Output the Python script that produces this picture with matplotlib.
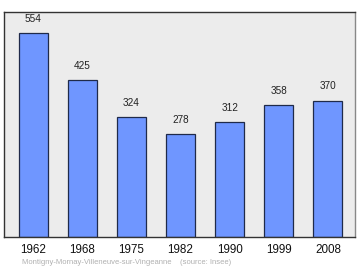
"""
Population bar chart: Montigny-Mornay-Villeneuve-sur-Vingeanne (source: Insee).
"""

import numpy as np
import matplotlib
matplotlib.use('Agg')
import matplotlib.pyplot as plt

plt.rcParams['font.family'] = ['Liberation Sans', 'DejaVu Sans']

YEARS = ['1962', '1968', '1975', '1982', '1990', '1999', '2008']
POPULATION = [554, 425, 324, 278, 312, 358, 370]
CAPTION = 'Montigny-Mornay-Villeneuve-sur-Vingeanne    (source: Insee)'

BAR_COLOR = '#6f96ff'
EDGE_COLOR = '#1f2a4a'
BG_COLOR = '#ececec'


def main():
    fig = plt.figure(figsize=(3.6, 2.7), dpi=100)
    # axes box in pixels: left 4, top 12, right 355, bottom 237
    ax = fig.add_axes([4 / 360, 1 - 237 / 270, 351 / 360, 225 / 270])
    ax.set_facecolor(BG_COLOR)

    x = np.arange(len(YEARS))
    ax.bar(x, POPULATION, width=0.59, color=BAR_COLOR,
           edgecolor=EDGE_COLOR, linewidth=0.9)

    for xi, val in zip(x, POPULATION):
        ax.annotate(str(val), (xi, val), xytext=(0, 6.5), textcoords='offset points',
                    ha='center', va='bottom', fontsize=7.2, color='#222222')

    ax.set_xlim(-0.59, 6.55)
    ax.set_ylim(0, 610)
    ax.set_yticks([])
    ax.set_xticks(x)
    ax.set_xticklabels(YEARS, fontsize=8.4, color='#111111')
    ax.tick_params(axis='x', length=0, pad=5)

    for side in ['left', 'top', 'bottom']:
        ax.spines[side].set_color('#333333')
        ax.spines[side].set_linewidth(1.0)
    ax.spines['right'].set_color('#888888')
    ax.spines['right'].set_linewidth(1.0)

    fig.text(22 / 360, 1 - 263 / 270, CAPTION, fontsize=5.5,
             color='#b0b0b0', ha='left', va='center')

    fig.savefig('out.png', dpi=100)
    plt.close(fig)


if __name__ == "__main__":
    main()
